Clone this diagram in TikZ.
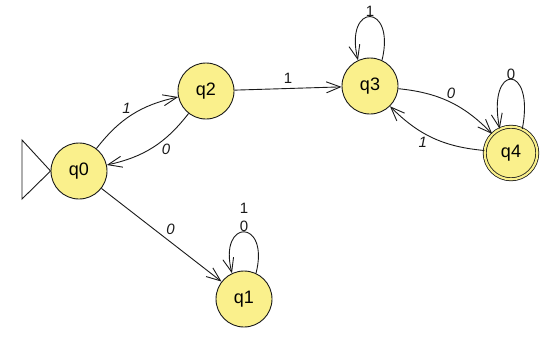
\documentclass[tikz,border=0pt]{standalone}
\usepackage{fontspec}
\setmainfont{Liberation Sans}
\usetikzlibrary{arrows.meta}
\definecolor{stfill}{HTML}{FAF08C}
\definecolor{ink}{HTML}{1A1A1A}
\begin{document}
\begin{tikzpicture}[x=1pt,y=-1pt,
  state/.style={circle,draw=ink,fill=stfill,line width=0.9pt,minimum size=56pt,inner sep=0pt,font=\fontsize{18}{20}\selectfont},
  acc/.style={state,minimum size=52.6pt,double=stfill,double distance=2.2pt,line width=0.8pt},
  tr/.style={draw=ink,line width=0.9pt,-{Straight Barb[length=14pt,width=11pt,line width=0.9pt]}},
  lbl/.style={font=\fontsize{15}{17}\selectfont,inner sep=1pt,text=ink},
]
\useasboundingbox (0,0) rectangle (560,338);
\node[state] (q0) at (79,171) {q0};
\node[state] (q2) at (206,91) {q2};
\node[state] (q3) at (370,86) {q3};
\node[acc] (q4) at (511,153) {q4};
\node[state] (q1) at (244,299) {q1};
% initial marker
\coordinate (ia) at (22,140);
\coordinate (ib) at (22,199);
\draw[draw=ink,line width=0.9pt] (q0.west) -- (ia) -- (ib) -- cycle;
% transitions
\draw[tr] (q0) to[bend left=20] node[lbl,pos=0.5,above left=0pt] {\itshape 1} (q2);
\draw[tr] (q2) to[bend left=20] node[lbl,pos=0.4,below right=0pt] {\itshape 0} (q0);
\draw[tr] (q2) -- node[lbl,above=4pt] {1} (q3);
\draw[tr] (q3) to[bend left=20] node[lbl,pos=0.45,above right=0pt] {\itshape 0} (q4);
\draw[tr] (q4) to[bend left=20] node[lbl,pos=0.55,below left=0pt] {\itshape 1} (q3);
\draw[tr] (q0) -- node[lbl,pos=0.52,above right=1pt] {\itshape 0} (q1);
% loops
\draw[tr] (q3.65) .. controls +(14,-58) and +(-14,-58) .. node[lbl,anchor=south,inner sep=0pt] {1} (q3.115);
\draw[tr] (q4.65) .. controls +(13,-66) and +(-13,-66) .. node[lbl,anchor=south,inner sep=-1pt] {0} (q4.115);
\draw[tr] (q1.65) .. controls +(14,-55) and +(-14,-55) .. node[lbl,anchor=south,inner sep=0pt,align=center] {1\\[1pt]0} (q1.115);
\end{tikzpicture}
\end{document}
